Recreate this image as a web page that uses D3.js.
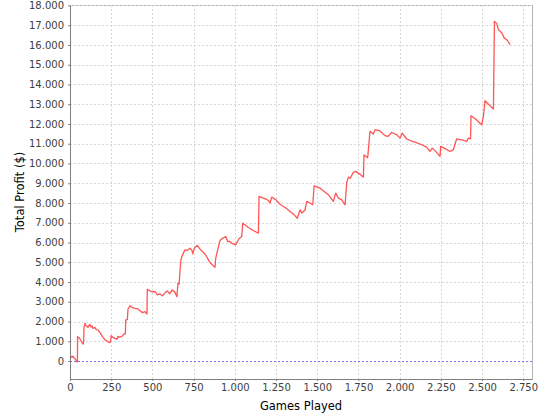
<!DOCTYPE html>
<html>
<head>
<meta charset="utf-8">
<script src="https://cdn.jsdelivr.net/npm/d3@7"></script>
<style>
	body { margin: 0; background: #fff; }
	svg { display: block; font-family: "DejaVu Sans", sans-serif; }
</style>
</head>
<body>
<svg id="chart" width="540" height="420"></svg>
<script>
// games played (x) and cumulative profit in $ (y)
const games = [
	0, 6, 12, 18, 24, 30, 36, 42, 45, 46, 55, 65, 75, 81, 83, 85, 91, 97, 103, 109,
	115, 121, 127, 133, 140, 152, 158, 170, 185, 200, 215, 230, 241, 247, 249, 260, 272, 285, 292, 300,
	315, 328, 336, 338, 348, 352, 358, 364, 380, 395, 410, 425, 440, 455, 467, 469, 485, 500, 516, 530,
	545, 560, 576, 590, 605, 619, 635, 649, 655, 662, 667, 673, 678, 690, 698, 712, 728, 740, 745, 754,
	772, 789, 810, 829, 845, 854, 866, 880, 884, 896, 910, 924, 945, 957, 970, 981, 1005, 1025, 1042, 1048,
	1065, 1082, 1112, 1143, 1147, 1173, 1190, 1203, 1214, 1224, 1250, 1270, 1290, 1310, 1335, 1360, 1379, 1396, 1406, 1426,
	1436, 1455, 1473, 1481, 1517, 1540, 1570, 1598, 1612, 1628, 1649, 1669, 1679, 1689, 1700, 1719, 1734, 1760, 1780, 1784,
	1806, 1820, 1840, 1851, 1881, 1911, 1928, 1952, 1982, 2002, 2016, 2043, 2077, 2093, 2134, 2164, 2184, 2198, 2220, 2245,
	2249, 2276, 2306, 2326, 2346, 2377, 2407, 2417, 2430, 2433, 2460, 2498, 2508, 2518, 2545, 2569, 2575, 2589, 2599, 2620,
	2634, 2653, 2670
];
const profit = [
	150, 250, 180, 250, 150, 120, 50, -50, -30, 1230, 1180, 1050, 900, 860, 1000, 1700, 1910, 1800, 1760, 1700,
	1800, 1850, 1720, 1780, 1650, 1700, 1600, 1570, 1400, 1200, 1050, 980, 930, 1000, 1280, 1200, 1150, 1100, 1250, 1200,
	1250, 1370, 1370, 2080, 2100, 2640, 2700, 2800, 2700, 2650, 2650, 2550, 2450, 2500, 2380, 3630, 3550, 3500, 3520, 3350,
	3400, 3300, 3450, 3550, 3400, 3600, 3500, 3260, 3950, 3900, 4530, 5100, 5270, 5500, 5630, 5600, 5710, 5600, 5430, 5700,
	5860, 5660, 5500, 5290, 5030, 4950, 4850, 4750, 5200, 5630, 6100, 6200, 6300, 6050, 6050, 5970, 5880, 6190, 6300, 6980,
	6870, 6760, 6610, 6470, 8330, 8250, 8200, 8130, 8000, 8300, 8160, 7960, 7850, 7750, 7570, 7400, 7230, 7650, 7490, 7650,
	8080, 8000, 7910, 8870, 8750, 8600, 8400, 8080, 8500, 8250, 8160, 7910, 9040, 9310, 9250, 9550, 9600, 9450, 9310, 10430,
	10290, 11630, 11490, 11710, 11650, 11410, 11370, 11570, 11460, 11290, 11540, 11240, 11120, 11080, 10950, 10830, 10610, 10780, 10600, 10360,
	10870, 10750, 10610, 10700, 11250, 11200, 11120, 11290, 11250, 12420, 12250, 11960, 12380, 13180, 12950, 12760, 17200, 17080, 16780, 16610,
	16360, 16240, 16020
];
const xTicks = [0, 250, 500, 750, 1000, 1250, 1500, 1750, 2000, 2250, 2500, 2750];
const yTicks = [0, 1000, 2000, 3000, 4000, 5000, 6000, 7000, 8000, 9000, 10000, 11000, 12000, 13000, 14000, 15000, 16000, 17000, 18000];

const plot = { left: 70, right: 532, top: 5, bottom: 379 };

const fmt = d3.formatLocale({ decimal: ',', thousands: '.', grouping: [3], currency: ['', '$'] }).format(',d');

const x = d3.scaleLinear().domain([0, 2803]).range([plot.left, plot.right]);
const y = d3.scaleLinear().domain([-911, 18025]).range([plot.bottom, plot.top]);

const svg = d3.select('#chart');

// plot background + outline
svg.append('rect')
	.attr('x', plot.left + .5).attr('y', plot.top + .5)
	.attr('width', plot.right - plot.left).attr('height', plot.bottom - plot.top)
	.attr('fill', '#fff').attr('stroke', '#b5b5b5');

// gridlines
const grid = svg.append('g').attr('stroke', '#d8d8d8').attr('stroke-dasharray', '2,2').attr('shape-rendering', 'crispEdges');
grid.selectAll('line.vx').data(xTicks.filter(d => d > 0)).enter().append('line')
	.attr('x1', d => Math.round(x(d)) + .5).attr('x2', d => Math.round(x(d)) + .5)
	.attr('y1', plot.top).attr('y2', plot.bottom);
grid.selectAll('line.hy').data(yTicks).enter().append('line')
	.attr('y1', d => Math.round(y(d)) + .5).attr('y2', d => Math.round(y(d)) + .5)
	.attr('x1', plot.left).attr('x2', plot.right);

// zero marker
svg.append('line')
	.attr('x1', plot.left).attr('x2', plot.right)
	.attr('y1', Math.round(y(0)) + .5).attr('y2', Math.round(y(0)) + .5)
	.attr('stroke', '#7373f0').attr('stroke-dasharray', '2,2').attr('shape-rendering', 'crispEdges');

// profit line
const line = d3.line()
	.x((d, i) => x(games[i]))
	.y(d => y(d));

svg.append('path')
	.datum(profit)
	.attr('d', line)
	.attr('fill', 'none')
	.attr('stroke', '#ff5555')
	.attr('stroke-width', 1.3)
	.attr('stroke-linejoin', 'round');

// axes
const xAxis = d3.axisBottom(x).tickValues(xTicks).tickFormat(fmt).tickSize(2).tickPadding(3);
const yAxis = d3.axisLeft(y).tickValues(yTicks).tickFormat(fmt).tickSize(2).tickPadding(4);

const gx = svg.append('g').attr('transform', `translate(0,${plot.bottom})`).call(xAxis);
const gy = svg.append('g').attr('transform', `translate(${plot.left},0)`).call(yAxis);

[gx, gy].forEach(g => {
	g.select('.domain').attr('stroke', '#808080');
	g.selectAll('.tick line').attr('stroke', '#808080');
	g.selectAll('.tick text').attr('fill', '#404040').style('font-size', '10px').style('font-family', '"DejaVu Sans", sans-serif');
});
gx.select('.domain').attr('d', `M${plot.left},0.5H${plot.right}`);
gy.select('.domain').attr('d', `M0.5,${plot.bottom}V${plot.top}`);

// axis titles
svg.append('text')
	.attr('x', (plot.left + plot.right) / 2).attr('y', 410)
	.attr('text-anchor', 'middle')
	.style('font-size', '11.5px').attr('fill', '#000')
	.text('Games Played');

svg.append('text')
	.attr('transform', `translate(24,${(plot.top + plot.bottom) / 2}) rotate(-90)`)
	.attr('text-anchor', 'middle')
	.style('font-size', '11.5px').attr('fill', '#000')
	.text('Total Profit ($)');
</script>
</body>
</html>
